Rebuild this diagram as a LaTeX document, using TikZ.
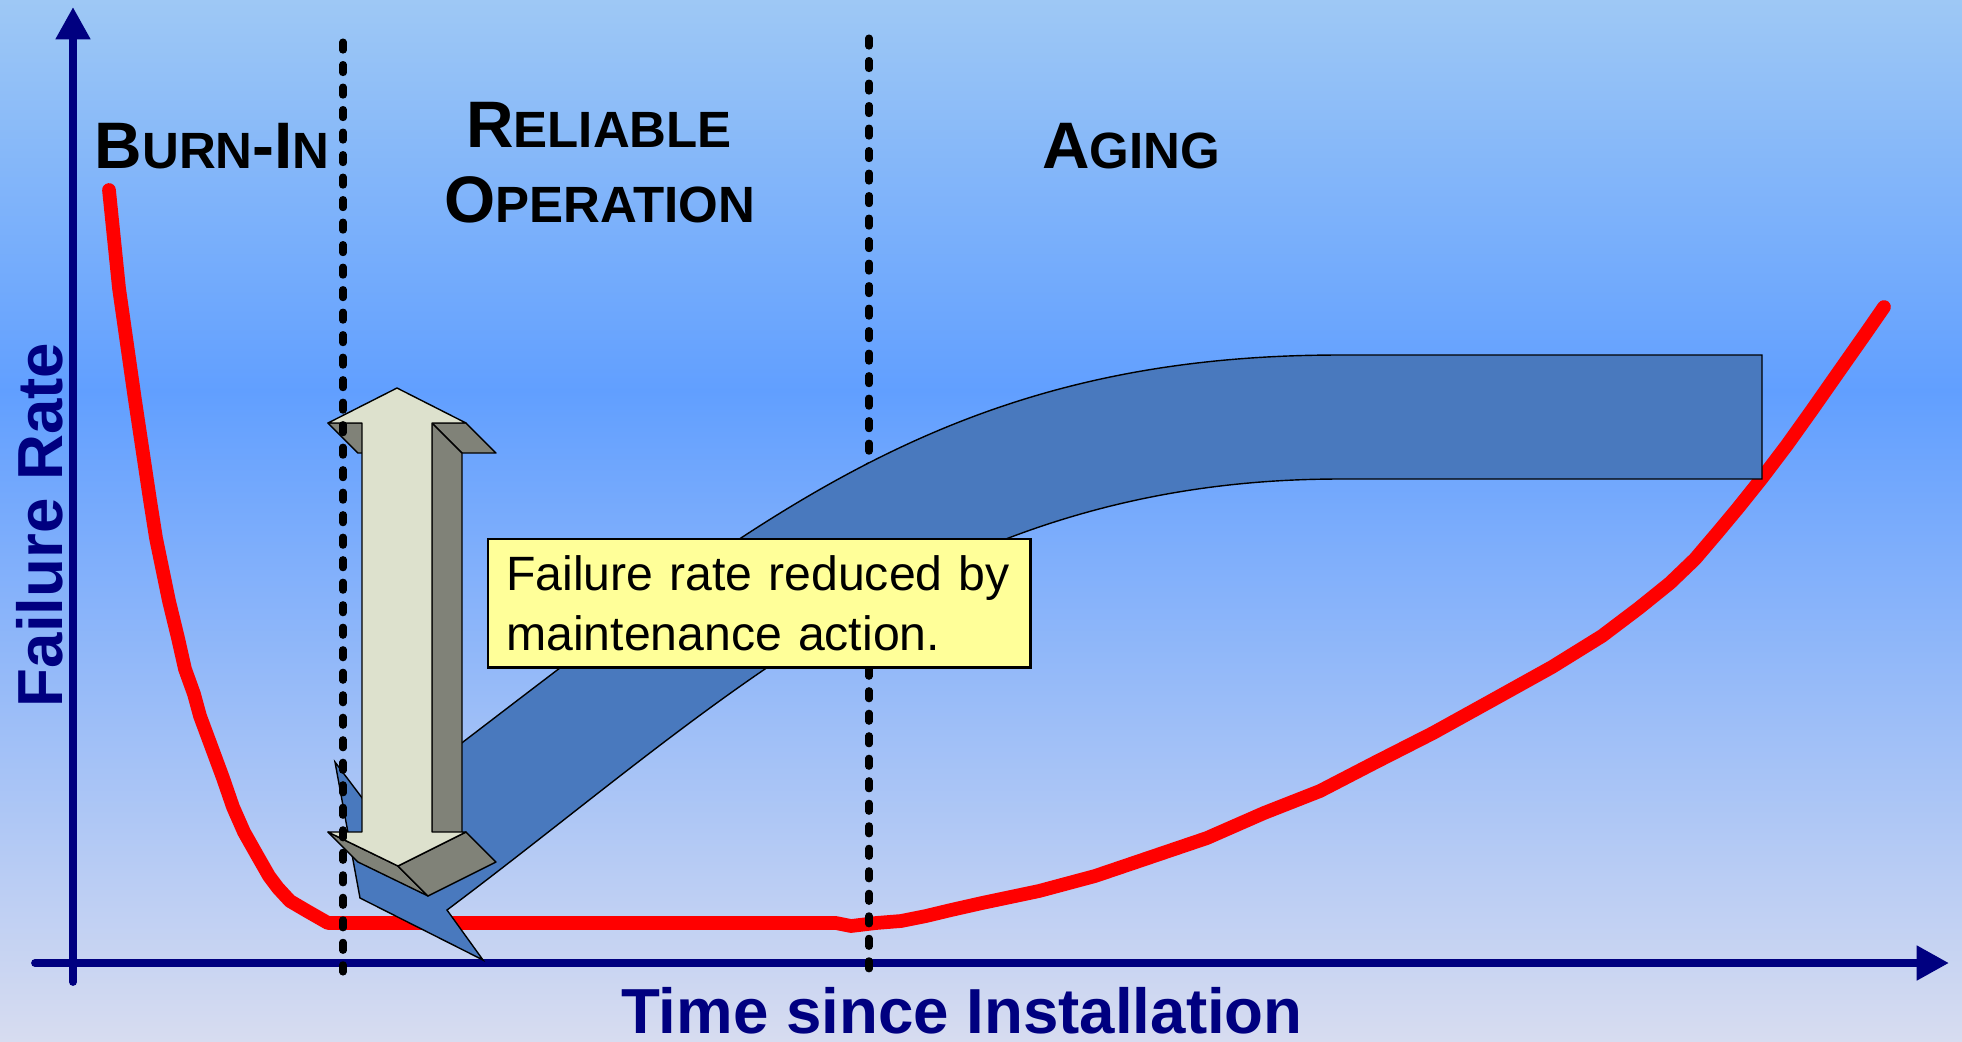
\documentclass[tikz,border=0pt]{standalone}
\usepackage{fontspec}
\setmainfont{Liberation Sans}
\usetikzlibrary{arrows.meta}

\definecolor{bgtop}{RGB}{158,200,245}
\definecolor{bgmid}{RGB}{97,159,255}
\definecolor{bgbot}{RGB}{215,220,240}
\definecolor{axisblue}{RGB}{0,0,128}
\definecolor{bandblue}{RGB}{73,121,190}
\definecolor{facelight}{RGB}{221,225,205}
\definecolor{facedark}{RGB}{128,130,120}
\definecolor{notefill}{RGB}{255,255,153}

\newcommand{\phbig}[1]{{\fontsize{18.7pt}{22pt}\selectfont #1}}
\newcommand{\phsmall}[1]{{\fontsize{14.5pt}{17pt}\selectfont #1}}

\begin{document}
\begin{tikzpicture}[x=0.01cm, y=-0.01cm,
    axisline/.style = {draw=axisblue, line width=2.2pt, line cap=round, -{Triangle[length=9.2pt, width=9.4pt]}},
    guide/.style = {draw=black, line width=2pt, line cap=round, dash pattern=on 2.3pt off 4.1pt},
    rate/.style = {draw=red, line width=3.9pt, line join=round, line cap=round},
    band/.style = {fill=bandblue, draw=black, line width=0.4pt},
    front/.style = {fill=facelight, draw=black, line width=0.4pt, line join=round},
    side/.style = {fill=facedark, draw=black, line width=0.4pt, line join=round},
    phase/.style = {inner sep=0pt, font=\bfseries},
    axislabel/.style = {inner sep=0pt, text=axisblue, font=\bfseries\fontsize{18.1pt}{21pt}\selectfont},
    note/.style = {draw=black, line width=0.7pt, fill=notefill, inner xsep=0.18cm, inner ysep=0pt,
        minimum height=1.28cm, text width=5.06cm, align=left, font=\fontsize{13.7pt}{16.8pt}\selectfont}]

    \useasboundingbox (0,0) rectangle (1962,1041);
    \shade[top color=bgtop, bottom color=bgmid] (0,0) rectangle (1962,392);
    \shade[top color=bgmid, bottom color=bgbot] (0,390) rectangle (1962,1041);

    % axes
    \coordinate (ybot) at (73,982);
    \coordinate (ytop) at (73,7);
    \coordinate (xleft) at (35,963);
    \coordinate (xright) at (1949,963);
    \draw[axisline] (ybot) -- (ytop);
    \draw[axisline] (xleft) -- (xright);

    % failure rate curve
    \draw[rate] (109,190) -- (119,288) -- (135,400) -- (150,500) -- (156,538) -- (169,601)
        -- (178,638) -- (185,669) -- (194,694) -- (200,716) -- (213,751) -- (223,778)
        -- (233,807) -- (244,832) -- (257,855) -- (269,876) -- (278,888) -- (290,901)
        -- (307,911) -- (328,923) -- (836,923) -- (851,926) -- (876,923) -- (901,921)
        -- (926,916) -- (951,910) -- (982,903) -- (1039,891) -- (1095,876) -- (1151,857)
        -- (1207,838) -- (1264,813) -- (1320,791) -- (1376,762) -- (1433,733) -- (1489,702)
        -- (1552,667) -- (1602,636) -- (1639,608) -- (1670,583) -- (1695,559) -- (1718,532)
        -- (1738,508) -- (1762,478) -- (1787,445) -- (1812,410) -- (1840,370) -- (1866,333)
        -- (1884,307);

    % phase borders
    \coordinate (agetop) at (869,38);
    \coordinate (agebot) at (869,972);
    \coordinate (burntop) at (343,42);
    \coordinate (burnbot) at (343,972);
    \draw[guide] (agetop) -- (agebot);

    % maintenance arrow
    \draw[band] (1762,355) -- (1340,355) .. controls (920,355) and (732,541) .. (372,811)
        -- (335,762) -- (360,898) -- (483,960) -- (447,910)
        .. controls (727,700) and (940,479) .. (1340,479) -- (1762,479) -- cycle;

    % reduction arrow
    \draw[side] (328,423) -- (362,423) -- (392,453) -- (358,453) -- cycle;
    \draw[side] (432,423) -- (466,423) -- (496,453) -- (462,453) -- cycle;
    \draw[side] (432,423) -- (462,453) -- (462,862) -- (432,832) -- cycle;
    \draw[side] (328,832) -- (398,866) -- (428,896) -- (358,862) -- cycle;
    \draw[side] (398,866) -- (466,832) -- (496,862) -- (428,896) -- cycle;
    \draw[front] (397,388) -- (466,423) -- (432,423) -- (432,832) -- (466,832) -- (398,866)
        -- (328,832) -- (362,832) -- (362,423) -- (328,423) -- cycle;

    \node[note, anchor=north west] (note) at (487,538) {Failure rate reduced by\\maintenance action.};

    \draw[guide] (burntop) -- (burnbot);

    % labels
    \node[phase, anchor=base west] (burnin) at (94,168) {\phbig{B}\phsmall{URN}\phbig{-I}\phsmall{N}};
    \node[phase, anchor=base] (reliable) at (599,147) {\phbig{R}\phsmall{ELIABLE}};
    \node[phase, anchor=base] (operation) at (600,222) {\phbig{O}\phsmall{PERATION}};
    \node[phase, anchor=base] (aging) at (1131,168) {\phbig{A}\phsmall{GING}};
    \node[axislabel, anchor=base] (xlabel) at (962,1033) {Time since Installation};
    \node[axislabel, anchor=base, rotate=90] (ylabel) at (62,525) {Failure Rate};
\end{tikzpicture}
\end{document}
